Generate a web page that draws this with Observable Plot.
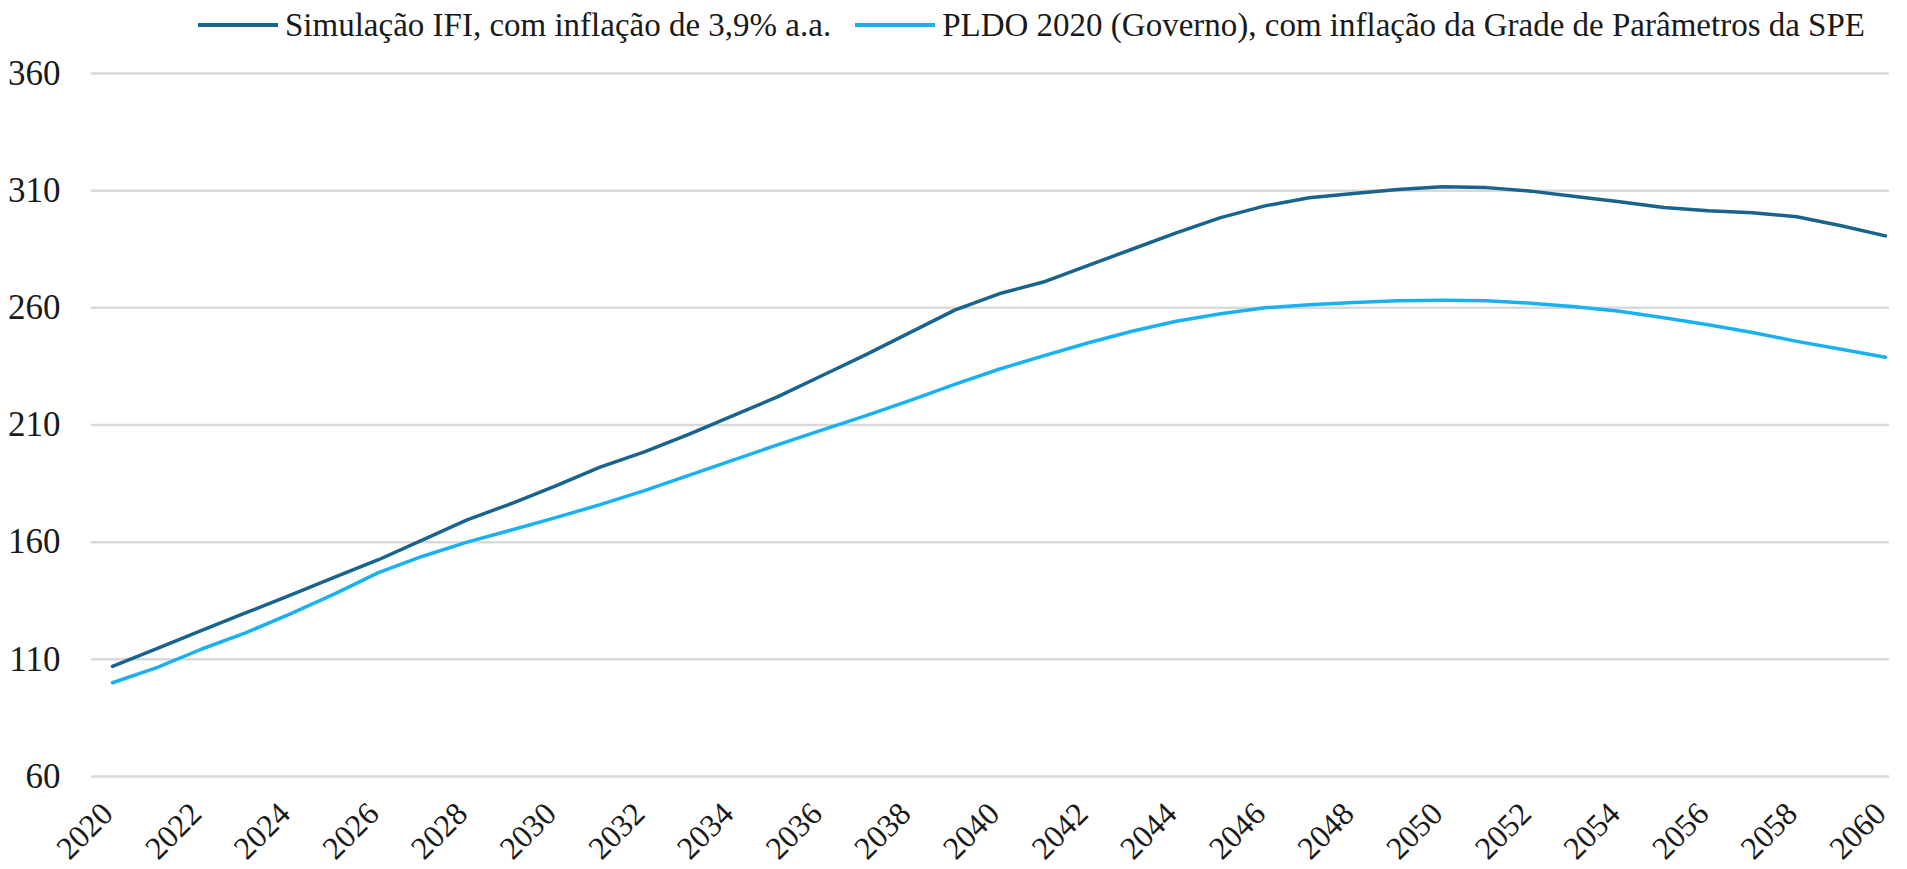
<!DOCTYPE html>
<html>
<head>
<meta charset="utf-8">
<script src="https://cdn.jsdelivr.net/npm/d3@7"></script>
<script src="https://cdn.jsdelivr.net/npm/@observablehq/plot@0.6"></script>
<style>
  html, body { margin: 0; padding: 0; background: #fff; }
  body { width: 1907px; height: 869px; overflow: hidden; font-family: "Liberation Serif", serif; }
  #legend { height: 50px; display: flex; align-items: center; padding-left: 198px; font-size: 33px; color: #1a1a1a; box-sizing: border-box; }
  #legend .item { display: flex; align-items: center; margin-right: 24px; }
  #legend .sw { width: 80px; height: 4px; margin-right: 7px; }
</style>
</head>
<body>
<div id="legend"></div>
<div id="chart"></div>
<script>
const years = d3.range(2020, 2061);
const seriesNames = [
  "Simulação IFI, com inflação de 3,9% a.a.",
  "PLDO 2020 (Governo), com inflação da Grade de Parâmetros da SPE"
];
const seriesColors = ["#19648c", "#1ab1f0"];
const simIFI = [
  107, 114.6, 122.2, 129.8, 137.3, 145, 152.5, 161, 169.5, 176.5,
  184, 192, 198.5, 206, 214, 222, 231, 240, 249.5, 259,
  266, 271, 278, 285, 292, 298.5, 303.5, 307, 308.8, 310.5,
  311.7, 311.3, 309.8, 307.5, 305.3, 302.8, 301.4, 300.6, 298.9, 295,
  290.7
];
const pldo = [
  100, 106.5, 114.3, 121.3, 129.3, 137.8, 147, 154, 160, 165.2,
  170.5, 176, 182, 188.5, 195, 201.5, 207.8, 214, 220.5, 227.3,
  233.8, 239.5, 245, 250, 254.3, 257.5, 260, 261.3, 262.3, 263,
  263.2, 263, 262, 260.5, 258.5, 255.8, 252.8, 249.5, 245.7, 242.3,
  238.9
];
const yTicks = [60, 110, 160, 210, 260, 310, 360];
const xTicks = d3.range(2020, 2061, 2);

const rows = [];
years.forEach((yr, i) => {
  rows.push({year: yr, value: simIFI[i], series: seriesNames[0]});
  rows.push({year: yr, value: pldo[i], series: seriesNames[1]});
});

const legend = document.getElementById("legend");
seriesNames.forEach((name, i) => {
  const it = document.createElement("div");
  it.className = "item";
  const sw = document.createElement("span");
  sw.className = "sw";
  sw.style.background = seriesColors[i];
  const tx = document.createElement("span");
  tx.textContent = name;
  it.appendChild(sw); it.appendChild(tx);
  legend.appendChild(it);
});

const chart = Plot.plot({
  width: 1907,
  height: 819,
  marginTop: 23,
  marginBottom: 93,
  marginLeft: 91,
  marginRight: 18,
  style: {fontFamily: "Liberation Serif, serif", color: "#1a1a1a", background: "#fff"},
  x: {domain: [2020, 2060], insetLeft: 21, insetRight: 4, label: null},
  y: {domain: [60, 360], label: null},
  color: {domain: seriesNames, range: seriesColors},
  marks: [
    Plot.ruleY(yTicks, {stroke: "#d9d9d9", strokeWidth: 2.5}),
    Plot.axisY({ticks: yTicks, tickSize: 0, tickPadding: 31, fontSize: 35, label: null}),
    Plot.axisX({ticks: xTicks, tickFormat: d => String(d), tickRotate: -45, tickSize: 0, tickPadding: 8, dx: -5, dy: 24, fontSize: 32, label: null}),
    Plot.line(rows, {x: "year", y: "value", z: "series", stroke: "series", strokeWidth: 3.5})
  ]
});
document.getElementById("chart").appendChild(chart);
</script>
</body>
</html>
